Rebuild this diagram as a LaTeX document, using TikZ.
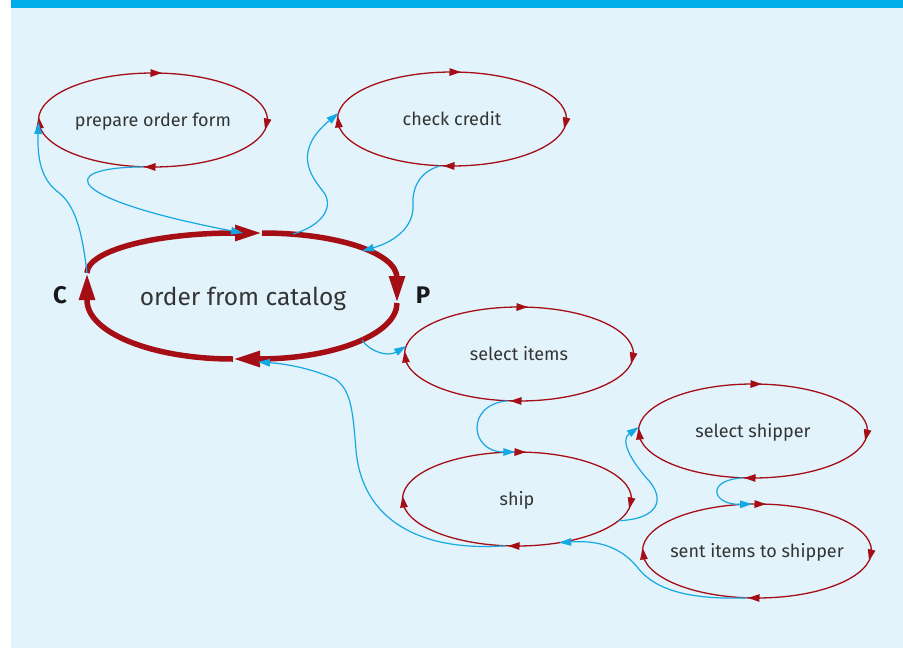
\documentclass[tikz,border=0pt]{standalone}
\usepackage{fontspec}
\setmainfont{Fira Sans}
\usetikzlibrary{arrows.meta,calc,shapes.geometric}
\definecolor{bgblue}{RGB}{226,243,252}
\definecolor{barblue}{RGB}{0,173,235}
\definecolor{lineblue}{RGB}{22,168,226}
\definecolor{darkred}{RGB}{166,14,22}
\definecolor{txt}{RGB}{52,52,52}
\tikzset{
  proc/.style={ellipse, minimum width=229pt, minimum height=94pt, inner sep=0pt,
    outer sep=0pt, text=txt, font=\fontsize{18}{20}\selectfont,
    text height=12pt, text depth=0pt},
  redloop/.style={draw=darkred, line width=1.3pt},
  redtip/.style={draw=darkred, line width=1.3pt, -{Triangle[length=11.5pt,width=7.5pt]}},
  thickred/.style={draw=darkred, line width=5.5pt},
  thickarrow/.style={thickred, -{Triangle[length=27pt,width=15pt]}},
  conn/.style={draw=lineblue, line width=1.2pt, -{Triangle[length=12pt,width=7.5pt]}},
  sidelabel/.style={font=\bfseries\fontsize{24}{26}\selectfont, text=black!90}
}
\newcommand{\procloop}[1]{%
  \draw[redloop] (#1.north) .. controls +(63.2,0) and +(0,-26) .. (#1.east)
    .. controls +(0,26) and +(63.2,0) .. (#1.south)
    .. controls +(-63.2,0) and +(0,26) .. (#1.west)
    .. controls +(0,-26) and +(-63.2,0) .. (#1.north);
  \draw[redtip] ($(#1.north)+(-2.5,0)$) -- ($(#1.north)+(9,0.1)$);
  \draw[redtip] ($(#1.east)+(0.2,-1.5)$) -- ($(#1.east)+(-2.4,10)$);
  \draw[redtip] ($(#1.south)+(2.5,0)$) -- ($(#1.south)+(-9,-0.1)$);
  \draw[redtip] ($(#1.west)+(1.5,8.5)$) -- ($(#1.west)+(0.1,-3)$);}
\begin{document}
\begin{tikzpicture}[x=1pt,y=-1pt]
\useasboundingbox (0,0) rectangle (903,648);
\fill[white] (0,0) rectangle (903,648);
\fill[bgblue] (11,0) rectangle (903,648);
\fill[barblue] (11,0) rectangle (903,8);

% thick process outline
\coordinate (L1) at (87,273);
\coordinate (L0) at (87,300);
\coordinate (T0) at (235,233);
\coordinate (T1) at (262,233);
\coordinate (R0) at (397,278);
\coordinate (R1) at (397,303);
\coordinate (B0) at (258,359);
\coordinate (B1) at (233,359);
\coordinate (ofcT) at (243,233);
\coordinate (ofcC) at (293,234);
\coordinate (ofcD) at (362,251);
\coordinate (ofcE) at (362,340);
\coordinate (ofcB) at (258,362);

\draw[thickred] (L1) .. controls (87,251) and (154,233) .. (T0);
\draw[thickred] (T1) .. controls (337,233) and (397,253) .. (R0);
\draw[thickred] (R1) .. controls (397,334) and (334,359) .. (B0);
\draw[thickred] (B1) .. controls (153,359) and (87,333) .. (L0);
\draw[thickarrow] (T0) -- (T1);
\draw[thickarrow] (R0) -- (R1);
\draw[thickarrow] (B0) -- (B1);
\draw[thickarrow] (L0) -- (L1);

\node[text=txt, font=\fontsize{24.5}{28}\selectfont, text height=18pt, text depth=0pt, inner sep=0pt] (ofc) at (243,296) {order from catalog};
\node[sidelabel] (lc) at (60,295) {C};
\node[sidelabel] (lp) at (423,295) {P};

\node[proc] (pof) at (153,120) {prepare order form};
\node[proc] (cc) at (452,119) {check credit};
\node[proc] (si) at (519,354) {select items};
\node[proc] (sh) at (517,499) {ship};
\node[proc] (ss) at (753,431) {select shipper};
\node[proc] (sis) at (757,551) {\makebox[0pt]{sent items to shipper}};
\procloop{pof}
\procloop{cc}
\procloop{si}
\procloop{sh}
\procloop{ss}
\procloop{sis}

% connectors
\draw[conn] (L1) .. controls (82,230) and (75,205) .. (58,192) .. controls (42,180) and (37,160) .. (pof.181);
\draw[conn] (pof.258) .. controls (50,168) and (70,200) .. (ofcT);
\draw[conn] (ofcC) .. controls (322,226) and (336,206) .. (322,190) .. controls (309,174) and (294,150) .. (cc.177);
\draw[conn] (cc.256) .. controls (418,172) and (412,190) .. (413,205) .. controls (414,230) and (390,243) .. (ofcD);
\draw[conn] (ofcE) .. controls (370,352) and (388,357) .. (si.176);
\draw[conn] (si.256) .. controls (465,405) and (470,452) .. (sh.92);
\draw[conn] (sh.-12) .. controls (650,520) and (668,505) .. (650,482) .. controls (630,460) and (620,440) .. (ss.178);
\draw[conn] (sis.258) .. controls (690,600) and (655,590) .. (638,568) .. controls (622,548) and (600,540) .. (sh.-46);
\draw[conn] (sh.256) .. controls (420,552) and (362,520) .. (356,450) .. controls (353,415) and (352,390) .. (335,379) .. controls (315,370) and (290,364) .. (ofcB);
\draw[conn] (ss.258) .. controls (705,480) and (712,505) .. (sis.96);
\end{tikzpicture}
\end{document}
